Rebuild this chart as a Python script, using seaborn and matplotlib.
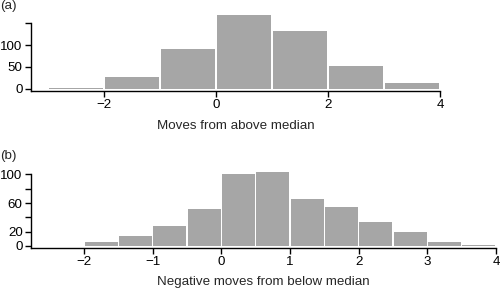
import matplotlib
matplotlib.use("Agg")
import matplotlib.pyplot as plt
import seaborn as sns
import numpy as np
import pandas as pd

sns.set_theme(style="ticks")
plt.rcParams['font.family'] = ['Liberation Sans', 'DejaVu Sans']

# Panel (a)
edges_a = [-3, -2, -1, 0, 1, 2, 3, 4]
counts_a = [2, 26, 91, 169, 132, 52, 12]
xticks_a = [-2, 0, 2, 4]
yticks_a = [0, 50, 100, 150]
ylabels_a = ["0", "50", "100", ""]

# Panel (b)
edges_b = [-2, -1.5, -1, -0.5, 0, 0.5, 1, 1.5, 2, 2.5, 3, 3.5, 4]
counts_b = [6, 14, 28, 51, 101, 104, 66, 54, 34, 19, 6, 1.5]
xticks_b = [-2, -1, 0, 1, 2, 3, 4]
yticks_b = [0, 20, 40, 60, 80, 100]
ylabels_b = ["0", "20", "", "60", "", "100"]

bar_color = "#a6a6a6"
fs = 9.6

fig = plt.figure(figsize=(5.0, 2.91), dpi=100)
ax1 = fig.add_axes([0.062, 0.687, 0.818, 0.263])
ax2 = fig.add_axes([0.062, 0.149, 0.930, 0.264])

def draw(ax, edges, counts, xticks, yticks, ylabels, xlim, ylim, spine_top,
         xlabel, tag, tag_y, shrink):
    e = [float(v) for v in edges]
    centers = [(e[i] + e[i + 1]) / 2 for i in range(len(e) - 1)]
    df = pd.DataFrame({"x": centers, "w": [float(c) for c in counts]})
    sns.histplot(data=df, x="x", weights="w", bins=e, ax=ax, color=bar_color,
                 linewidth=0, alpha=1.0, shrink=shrink)
    ax.set_xlim(*xlim)
    ax.set_ylim(*ylim)
    ax.set_xticks(xticks)
    ax.set_xticklabels([("\u2212" + str(-t)) if t < 0 else str(t) for t in xticks], fontsize=fs)
    ax.set_yticks(yticks)
    ax.set_yticklabels(ylabels, fontsize=fs)
    ax.set_ylabel("")
    ax.set_xlabel(xlabel, fontsize=fs, labelpad=6)
    for s in ["top", "right"]:
        ax.spines[s].set_visible(False)
    for s in ["left", "bottom"]:
        ax.spines[s].set_linewidth(1.0)
        ax.spines[s].set_color("black")
    ax.spines["left"].set_bounds(ylim[0], spine_top)
    ax.tick_params(axis="both", length=4, width=1.0, pad=2, colors="black")
    ax.text(0.0, tag_y, tag, transform=fig.transFigure, fontsize=fs, ha="left", va="center")

draw(ax1, edges_a, counts_a, xticks_a, yticks_a, ylabels_a, (-3.3, 4.0), (-5.7, 170), 150,
     "Moves from above median", "(a)", 1 - 6 / 291, 0.975)
draw(ax2, edges_b, counts_b, xticks_b, yticks_b, ylabels_b, (-2.77, 4.0), (-2.4, 105), 100,
     "Negative moves from below median", "(b)", 1 - 156 / 291, 0.96)

fig.savefig("out.png", dpi=100)
